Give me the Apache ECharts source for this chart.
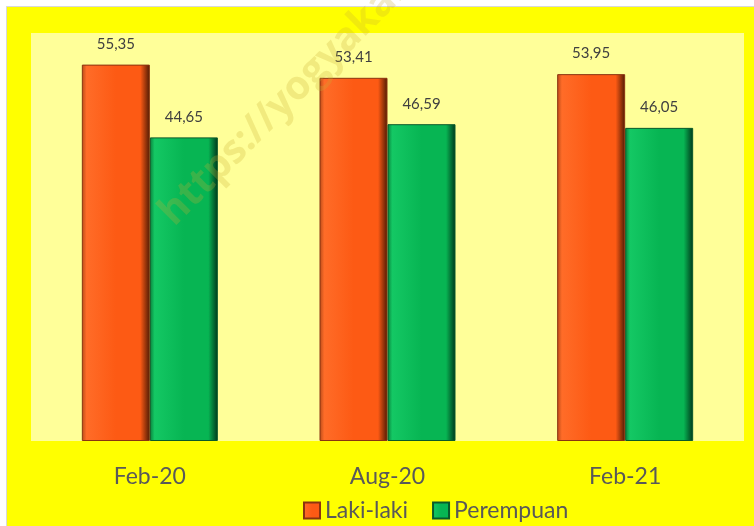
<!DOCTYPE html>
<html>
<head>
<meta charset="utf-8">
<script src="https://cdn.jsdelivr.net/npm/echarts@6/dist/echarts.min.js"></script>
<style>
  html, body { margin: 0; padding: 0; background: #fff; }
  #chart { width: 754px; height: 526px; }
</style>
</head>
<body>
<div id="chart"></div>
<script>
// data
const periods = ['Feb-20', 'Aug-20', 'Feb-21'];
const lakiLaki = [55.35, 53.41, 53.95];
const perempuan = [44.65, 46.59, 46.05];

const fmt = p => p.value.toFixed(2).replace('.', ',');

// bevel-ish horizontal gradients
function bevel(edge, light, base, dark) {
  return new echarts.graphic.LinearGradient(0, 0, 1, 0, [
    { offset: 0, color: edge },
    { offset: 0.07, color: light },
    { offset: 0.5, color: base },
    { offset: 0.86, color: base },
    { offset: 1, color: dark }
  ]);
}
const orange = bevel('#b84a18', '#ff6c28', '#fd5a14', '#4e1a04');
const green = bevel('#08803c', '#14c864', '#07b553', '#00361a');

const chart = echarts.init(document.getElementById('chart'));
chart.setOption({
  backgroundColor: '#ffffff',
  textStyle: { fontFamily: 'Lato, "Open Sans", sans-serif' },
  graphic: [
    {
      type: 'rect', z: -10, silent: true,
      shape: { x: 6.5, y: 6.5, width: 760, height: 530 },
      style: { fill: '#ffff00', stroke: '#d8d8d8', lineWidth: 1 }
    },
    {
      // watermark
      type: 'text', z: 100, silent: true,
      x: 152, y: 205, rotation: 45 * Math.PI / 180,
      style: {
        text: 'https://yogyakarta.bps.go.id',
        font: 'bold 40px "Open Sans", sans-serif',
        fill: 'rgba(200,175,50,0.26)'
      }
    }
  ],
  grid: {
    left: 31, right: 10, top: 33, bottom: 85,
    show: true, backgroundColor: '#ffff99', borderWidth: 0
  },
  legend: {
    left: 298, top: 494,
    itemWidth: 16, itemHeight: 16, itemGap: 24, icon: 'rect',
    textStyle: { fontSize: 23, color: '#595959', fontFamily: 'Lato, sans-serif' },
    data: ['Laki-laki', 'Perempuan']
  },
  xAxis: {
    type: 'category',
    data: periods,
    axisLine: { show: false },
    axisTick: { show: false },
    axisLabel: { fontSize: 23, color: '#595959', margin: 24 }
  },
  yAxis: {
    type: 'value', min: 0, max: 60,
    show: false, splitLine: { show: false }
  },
  series: [
    {
      name: 'Laki-laki', type: 'bar', data: lakiLaki,
      barWidth: 68, barGap: '0%',
      itemStyle: { color: orange, borderColor: '#8a3410', borderWidth: 1 },
      label: { show: true, position: 'top', distance: 13, fontSize: 15, color: '#404040', formatter: fmt }
    },
    {
      name: 'Perempuan', type: 'bar', data: perempuan,
      barWidth: 68,
      itemStyle: { color: green, borderColor: '#0a5a2a', borderWidth: 1 },
      label: { show: true, position: 'top', distance: 13, fontSize: 15, color: '#404040', formatter: fmt }
    }
  ]
});
</script>
</body>
</html>
